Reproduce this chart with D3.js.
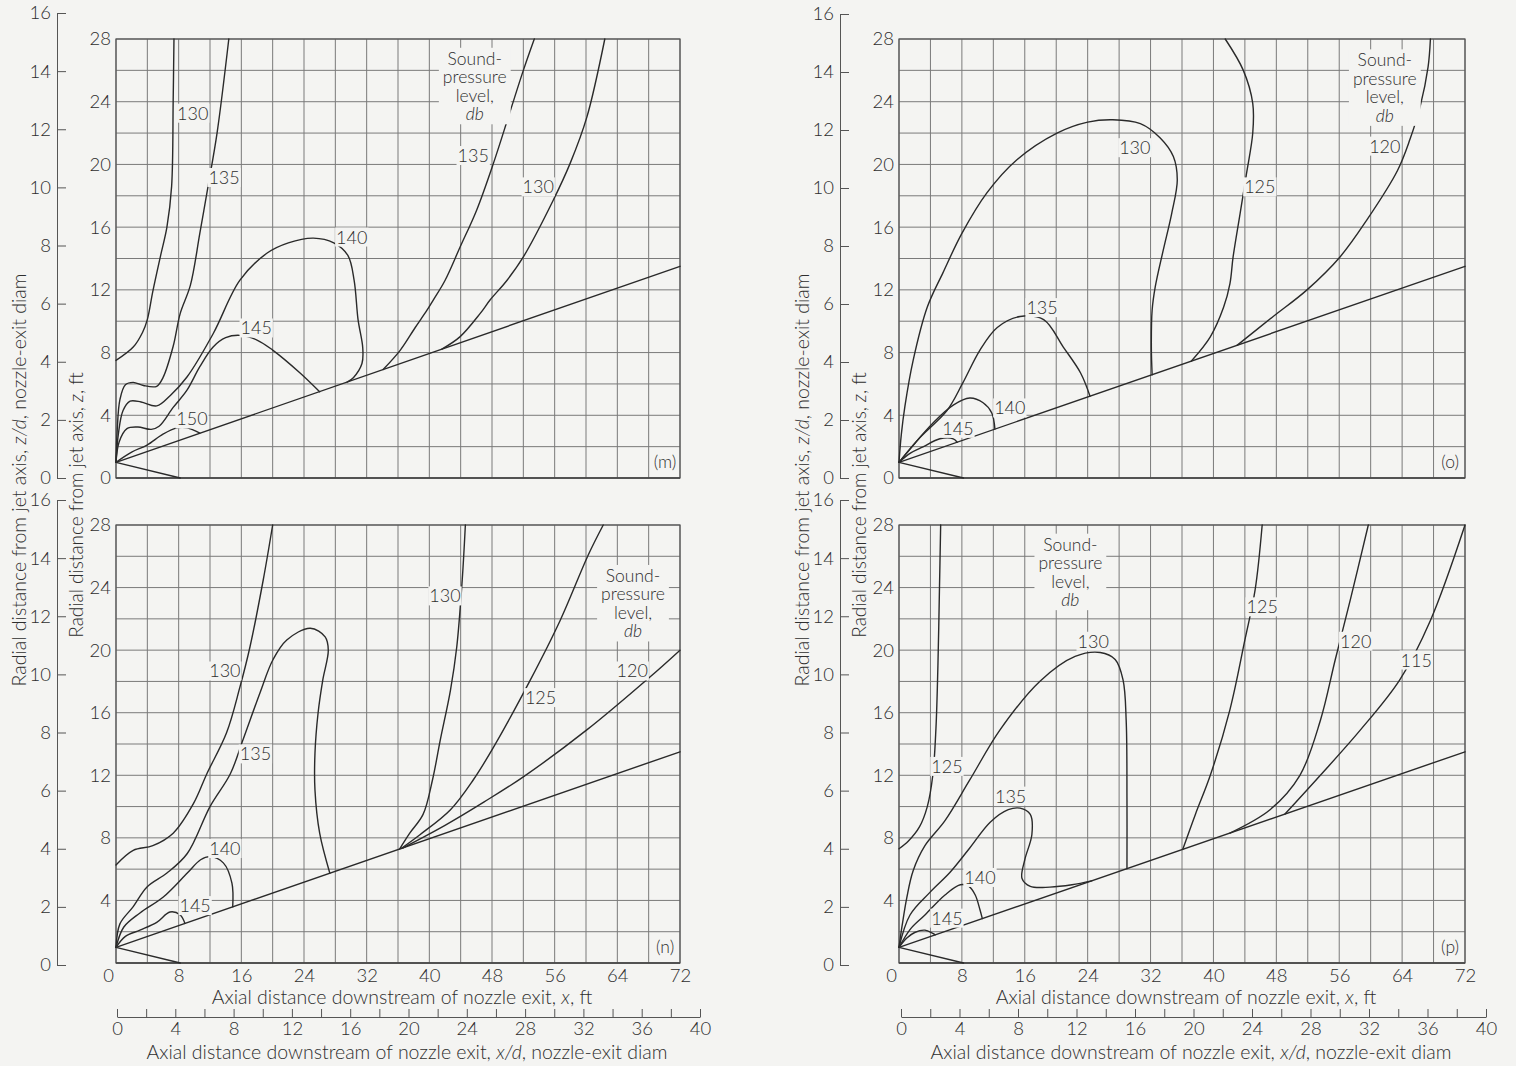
<!DOCTYPE html>
<html>
<head>
<meta charset="utf-8">
<script src="https://cdn.jsdelivr.net/npm/d3@7"></script>
<style>
  html, body { margin: 0; padding: 0; background: #f4f4f2; }
  svg { display: block; }
  text { font-family: Lato, "Open Sans", sans-serif; font-weight: 300; fill: #2e2e2e; }
</style>
</head>
<body>
<script>
// ---- tick values ----
const ftX = [0, 8, 16, 24, 32, 40, 48, 56, 64, 72];
const ftZ = [0, 4, 8, 12, 16, 20, 24, 28];
const ftZLower = [4, 8, 12, 16, 20, 24, 28];
const zdTicks = [0, 2, 4, 6, 8, 10, 12, 14, 16];
const xdTicks = d3.range(0, 41, 2);

// ---- jet boundary lines (x ft, z ft) ----
const jetOuter = [[0, 1.0], [72, 13.5]];
const jetInner = [[0, 1.0], [8.2, 0]];

// ---- panel (m) contours ----
const m130L = [[0,7.5],[2.2,8.35],[3.4,9.3],[4.0,10.1],[4.7,11.9],[5.7,14.2],[6.5,16.0],[7.1,18.6],[7.3,24.1],[7.4,28]];
const m135L = [[0,1.0],[0.15,3.0],[0.5,5.0],[1.2,5.95],[2.2,6.1],[3.5,5.9],[5.2,5.85],[6.0,6.4],[7.3,8.4],[8.2,10.5],[9.5,12.3],[10.7,15.6],[11.75,18.6],[12.9,22],[14.4,28]];
const m140 = [[0,1.0],[0.3,2.8],[0.9,4.3],[1.8,4.9],[3.2,4.85],[5.2,4.6],[7,5.3],[9.06,6.44],[12.4,9.2],[15.8,12.6],[19.3,14.35],[22,15.0],[25.2,15.3],[27.8,15.0],[29.6,14.2],[30.4,12.6],[30.9,10.1],[31.5,8.3],[31.4,7.3],[30.3,6.4],[29.5,6.12]];
const m145 = [[0,1.0],[0.4,2.3],[1.4,3.15],[2.8,3.25],[4.5,3.1],[5.5,3.3],[7.3,4.5],[9.06,5.6],[10.7,7.1],[12.4,8.36],[14,8.95],[15.8,9.1],[18,8.8],[20,8.16],[23.5,6.7],[26,5.5]];
const m150 = [[0,1.0],[2,1.65],[3.96,2.1],[6.0,2.8],[7.8,3.2],[9.1,3.2],[10.7,2.86]];
const m135R = [[34.1,6.92],[36.3,8.16],[38.2,9.6],[39.7,10.7],[40.5,11.35],[42,12.6],[43.9,14.7],[46.05,17.1],[48.2,20.1],[50.2,23.2],[52,26],[53.4,28]];
const m130R = [[41.6,8.22],[43.9,9.0],[46.5,10.5],[47.75,11.35],[49.9,12.6],[52,14.1],[55.8,17.7],[58,20.1],[60.1,23],[62.4,28]];
const mLabels = [["130",9.8,23.3],["135",13.8,19.2],["140",30.1,15.4],["145",17.9,9.6],["150",9.7,3.8],["135",45.6,20.6],["130",53.9,18.6]];

// ---- panel (o) contours ----
const o130 = [[0,1.0],[0.3,2.8],[0.76,4.6],[1.8,7.5],[3.6,10.9],[5.6,13.1],[8.0,15.6],[11.2,18.2],[15,20.3],[20.1,22],[24,22.7],[27.2,22.85],[30.7,22.6],[33.2,21.7],[34.9,20.5],[35.4,19.0],[34.7,16.9],[33.6,14.5],[32.6,12.2],[32.2,10.7],[32.1,8.35],[32.2,6.59]];
const o135 = [[0,1.0],[2.7,2.6],[6.1,4.3],[8.1,6.05],[10.3,8.16],[12.5,9.6],[15.4,10.3],[18.4,10.1],[20.9,8.35],[23.1,6.7],[24.3,5.22]];
const o140 = [[0,1.0],[2,2.2],[4.3,3.5],[6.9,4.65],[9.0,5.1],[10.7,4.8],[11.8,4.15],[12.2,3.12]];
const o145 = [[0,1.0],[1.5,1.6],[3.05,1.98],[5.2,2.5],[6.9,2.5],[7.4,2.28]];
const o125 = [[37.2,7.46],[39.6,9.0],[41.3,10.9],[42.1,12.4],[42.5,14.1],[43.4,16.9],[44.2,19.4],[45.0,22],[45.0,23.9],[43.8,26],[41.5,28]];
const o120 = [[43,8.46],[47.6,10.3],[51.9,12.0],[56.1,14.1],[59.5,16.45],[63.4,19.6],[65,21.6],[66.3,23.7],[67.3,26.2],[67.6,28]];
const oLabels = [["130",30.0,21.1],["125",45.9,18.6],["120",61.8,21.2],["135",18.2,10.9],["140",14.1,4.5],["145",7.5,3.2]];

// ---- panel (n) contours ----
const n130L = [[0,6.27],[2.2,7.2],[4.7,7.5],[7.3,8.3],[9.9,10.2],[11.6,12.1],[14.1,14.7],[15.8,17.6],[17.1,20.2],[18.8,24.5],[20,28]];
const n135 = [[0,1.0],[0.5,2.5],[2.2,3.6],[3.96,4.86],[6.5,5.75],[9.1,7.0],[12,10],[14.6,12.1],[16.2,14.25],[18.4,17.3],[20.05,19.4],[21.8,20.65],[24.8,21.4],[26.7,20.85],[27.1,20.0],[26.4,18.1],[25.8,16.0],[25.4,13.4],[25.4,11.06],[26,8.3],[27.3,5.74]];
const n140 = [[0,1.0],[1,2.3],[3.06,3.2],[6,4.2],[9.1,5.75],[10.8,6.6],[12,6.8],[13.7,6.4],[14.8,5.1],[14.9,3.59]];
const n145 = [[0,1.0],[1.2,1.7],[3.06,2.1],[5.2,2.6],[6.9,3.26],[8.2,3.07],[8.8,2.53]];
const n130R = [[36.2,7.28],[37.5,8.3],[39.2,9.5],[40.4,11.7],[41.4,14.26],[42.7,17.45],[43.5,20.2],[44.2,24.5],[44.6,28]];
const n125 = [[36.4,7.32],[38.8,8.2],[42.7,9.8],[45.6,11.7],[48.2,13.8],[52.9,18.1],[56.7,21.9],[60.3,26.1],[62.2,28]];
const n120 = [[36.6,7.35],[42,8.8],[47,10.3],[52,11.9],[60.1,14.9],[68.2,18.3],[72,20.0]];
const nLabels = [["130",13.9,18.7],["135",17.8,13.4],["140",13.9,7.35],["145",10.1,3.7],["130",42.0,23.5],["125",54.2,17.0],["120",65.9,18.7]];

// ---- panel (p) contours ----
const p125L = [[0,7.3],[1.2,7.8],[2.6,8.7],[3.6,10.0],[4.3,12.0],[4.7,15],[4.95,19],[5.15,24],[5.3,28]];
const p130 = [[0,1.0],[0.4,2.4],[1.0,4.2],[1.8,5.9],[3.3,7.5],[5.85,9.1],[9.0,11.7],[12.85,14.9],[17.9,18.0],[22.4,19.6],[25.6,19.85],[27.5,19.4],[28.5,18.1],[28.9,15.5],[29.0,10.4],[29.0,6.03]];
const p135 = [[0,1.0],[1.4,3.07],[3.9,4.5],[6.5,5.8],[9.0,7.35],[11.6,9.0],[13.9,9.8],[15.4,9.9],[16.7,9.5],[16.9,8.2],[16.0,6.6],[15.65,5.4],[16.7,4.9],[19.2,4.85],[22,5.0],[24.5,5.25]];
const p140 = [[0,1.0],[1.5,2.2],[3.3,3.07],[5.85,4.35],[7.8,5.0],[8.9,4.9],[9.7,4.35],[10.3,3.4],[10.6,2.84]];
const p145 = [[0,1.0],[1.0,1.6],[2.0,1.95],[3.3,2.1],[4.6,1.8]];
const p125R = [[36.1,7.27],[37.7,9.5],[39.6,12.0],[42.1,16.2],[44.0,20.65],[45.3,23.85],[46.2,28]];
const p120 = [[42.1,8.31],[47.2,9.8],[51,12.0],[53.6,15.5],[55.5,19.4],[57.4,23.2],[59.7,28]];
const p115 = [[49.1,9.52],[53.6,12.0],[58.7,14.9],[63.7,18.1],[67.6,21.9],[72,28]];
const pLabels = [["125",6.1,12.6],["130",24.7,20.6],["135",14.2,10.7],["140",10.3,5.5],["145",6.1,2.9],["125",46.2,22.8],["120",58.1,20.6],["115",65.8,19.4]];

// ---- legend text ----
const legendLines = ["Sound-", "pressure", "level,", "db"];

// ---- page layout ----
const W = 1516, H = 1066;
const frames = {
  m: { left: 116, right: 680, top: 39, bottom: 478, zdTop: 13, zdBottom: 478, zdAxis: 57 },
  o: { left: 899, right: 1465, top: 39, bottom: 478, zdTop: 14, zdBottom: 478, zdAxis: 840 },
  n: { left: 116, right: 680, top: 525, bottom: 963, zdTop: 500, zdBottom: 965, zdAxis: 57 },
  p: { left: 899, right: 1465, top: 525, bottom: 963, zdTop: 500, zdBottom: 965, zdAxis: 840 }
};

const panels = [
  { key: "m", curves: [m130L, m135L, m140, m145, m150, m135R, m130R], labels: mLabels, legendAt: [45.8, 25.0], tag: "(m)", showX: false },
  { key: "o", curves: [o130, o135, o140, o145, o125, o120], labels: oLabels, legendAt: [61.8, 24.9], tag: "(o)", showX: false },
  { key: "n", curves: [n130L, n135, n140, n145, n130R, n125, n120], labels: nLabels, legendAt: [66.0, 23.0], tag: "(n)", showX: true },
  { key: "p", curves: [p125L, p130, p135, p140, p145, p125R, p120, p115], labels: pLabels, legendAt: [21.8, 25.0], tag: "(p)", showX: true }
];

const BG = "#f4f4f2";
const INK = "#2a2a2a";
const TICK_SIZE = 18.5;

const svg = d3.select("body").append("svg").attr("width", W).attr("height", H);
svg.append("rect").attr("width", W).attr("height", H).attr("fill", BG);

function bgText(g, str, cx, cy, size, italic) {
  const t = g.append("text").attr("x", cx).attr("y", cy)
    .attr("text-anchor", "middle").attr("dominant-baseline", "central")
    .attr("font-size", size).text(str);
  if (italic) t.attr("font-style", "italic");
  return t;
}

function styleTicks(sel) {
  sel.selectAll("text").attr("font-size", TICK_SIZE).attr("font-family", "Lato, sans-serif")
    .attr("font-weight", 300).attr("fill", "#2e2e2e");
}

function drawPanel(P) {
  const F = frames[P.key];
  const x = d3.scaleLinear().domain([0, 72]).range([F.left, F.right]);
  const z = d3.scaleLinear().domain([0, 28]).range([F.bottom, F.top]);
  const zd = d3.scaleLinear().domain([0, 16]).range([F.zdBottom, F.zdTop]);
  const g = svg.append("g");

  // grid
  const grid = g.append("g").attr("stroke", "#7a7a7a").attr("stroke-width", 1).attr("fill", "none");
  d3.range(0, 73, 4).forEach(v => grid.append("line")
    .attr("x1", x(v)).attr("x2", x(v)).attr("y1", z(0)).attr("y2", z(28)));
  d3.range(0, 29, 2).forEach(h => grid.append("line")
    .attr("x1", x(0)).attr("x2", x(72)).attr("y1", z(h)).attr("y2", z(h)));
  g.append("rect").attr("x", x(0)).attr("y", z(28)).attr("width", x(72) - x(0)).attr("height", z(0) - z(28))
    .attr("fill", "none").attr("stroke", "#555").attr("stroke-width", 1.2);
  g.append("line").attr("x1", x(0)).attr("x2", x(72)).attr("y1", z(0)).attr("y2", z(0))
    .attr("stroke", "#444").attr("stroke-width", 1.6);

  // z, ft axis (the lower panels share their zero with the x axis label)
  const az = g.append("g").attr("transform", `translate(${F.left},0)`)
    .call(d3.axisLeft(z).tickValues(P.showX ? ftZLower : ftZ).tickSize(0).tickPadding(5));
  az.select(".domain").remove();
  styleTicks(az);

  // z/d axis
  const azd = g.append("g").attr("transform", `translate(${F.zdAxis},0)`)
    .call(d3.axisLeft(zd).tickValues(zdTicks).tickSizeInner(-9).tickSizeOuter(0).tickPadding(6));
  azd.select(".domain").attr("stroke", "#555");
  azd.selectAll(".tick line").attr("stroke", "#555");
  styleTicks(azd);

  // x, ft axis
  if (P.showX) {
    const ax = g.append("g").attr("transform", `translate(0,${F.bottom})`)
      .call(d3.axisBottom(x).tickValues(ftX).tickSize(0).tickPadding(6));
    ax.select(".domain").remove();
    styleTicks(ax);
    ax.selectAll("text").attr("dx", d => d === 0 ? -8 : 0);
  }

  // contour labels with a blank backing over the grid
  const lab = g.append("g");
  const labText = P.labels.map(([s, lx, lz]) => bgText(lab, s, x(lx), z(lz), 18));
  labText.forEach(t => {
    const b = t.node().getBBox();
    lab.insert("rect", "text").attr("x", b.x - 1).attr("y", b.y + 2).attr("width", b.width + 2).attr("height", b.height - 3).attr("fill", BG);
  });

  // legend block
  const lg = g.append("g");
  const lx = x(P.legendAt[0]), ly = z(P.legendAt[1]);
  const lineH = 18.5;
  const lt = legendLines.map((s, i) => bgText(lg, s, lx, ly + (i - 1.5) * lineH, 17.5, i === 3));
  let bx0 = Infinity, bx1 = -Infinity, by0 = Infinity, by1 = -Infinity;
  lt.forEach(t => { const b = t.node().getBBox(); bx0 = Math.min(bx0, b.x); bx1 = Math.max(bx1, b.x + b.width); by0 = Math.min(by0, b.y); by1 = Math.max(by1, b.y + b.height); });
  lg.insert("rect", "text").attr("x", bx0 - 4).attr("y", by0).attr("width", bx1 - bx0 + 8).attr("height", by1 - by0).attr("fill", BG);

  // panel tag
  const tg = g.append("g");
  const tt = bgText(tg, P.tag, x(70.1), z(1.05), 17.5);
  const tb = tt.node().getBBox();
  tg.insert("rect", "text").attr("x", tb.x - 2).attr("y", tb.y).attr("width", tb.width + 4).attr("height", tb.height).attr("fill", BG);

  // jet boundaries and contours
  const line = d3.line().x(d => x(d[0])).y(d => z(d[1]));
  const smooth = d3.line().x(d => x(d[0])).y(d => z(d[1])).curve(d3.curveCatmullRom.alpha(0.5));
  const cg = g.append("g").attr("fill", "none").attr("stroke", INK).attr("stroke-width", 1.4)
    .attr("stroke-linejoin", "round").attr("stroke-linecap", "round");
  cg.append("path").attr("d", line(jetOuter));
  cg.append("path").attr("d", line(jetInner));
  P.curves.forEach(c => cg.append("path").attr("d", smooth(c)));

  lab.raise(); lg.raise(); tg.raise();
}

panels.forEach(drawPanel);

// ---- x/d axes under the lower panels ----
[[117, 700], [901, 1486]].forEach(([a, b]) => {
  const xd = d3.scaleLinear().domain([0, 40]).range([a, b]);
  const ax = svg.append("g").attr("transform", "translate(0,1017)")
    .call(d3.axisBottom(xd).tickValues(xdTicks).tickSizeInner(-8).tickSizeOuter(0).tickPadding(5)
      .tickFormat(d => d % 4 === 0 ? d : ""));
  ax.select(".domain").attr("stroke", "#555");
  ax.selectAll(".tick line").attr("stroke", "#555");
  styleTicks(ax);
});

// ---- axis titles ----
function title(xc, yc, parts, rotate, size) {
  const t = svg.append("text").attr("text-anchor", "middle").attr("font-size", size || 19.5)
    .attr("transform", rotate ? `translate(${xc},${yc}) rotate(-90)` : `translate(${xc},${yc})`)
    .attr("dominant-baseline", "central");
  parts.forEach(([s, it]) => t.append("tspan").attr("font-style", it ? "italic" : "normal").text(s));
}
const titleFt = [["Axial distance downstream of nozzle exit, "], ["x", true], [", ft"]];
const titleXd = [["Axial distance downstream of nozzle exit, "], ["x/d", true], [", nozzle-exit diam"]];
const titleZd = [["Radial distance from jet axis, "], ["z/d", true], [", nozzle-exit diam"]];
const titleZ = [["Radial distance from jet axis, "], ["z", true], [", ft"]];

title(402, 996, titleFt, false);
title(1186, 996, titleFt, false);
title(407, 1051, titleXd, false);
title(1191, 1051, titleXd, false);
title(18, 480, titleZd, true);
title(801, 480, titleZd, true);
title(75, 505, titleZ, true, 19);
title(858, 505, titleZ, true, 19);
</script>
</body>
</html>
